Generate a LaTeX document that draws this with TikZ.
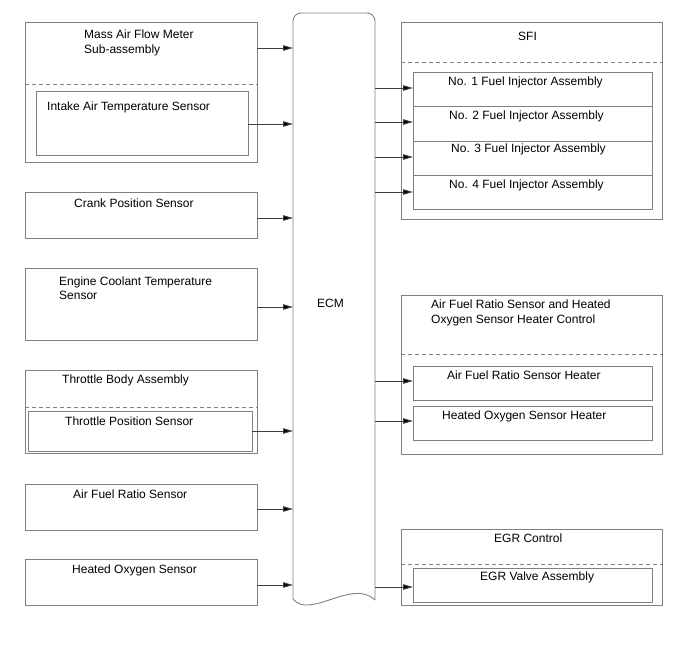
\documentclass[tikz,border=0pt]{standalone}
\usepackage{fontspec}
\setmainfont{Liberation Sans}
\usetikzlibrary{arrows.meta}
\definecolor{boxgray}{HTML}{808080}
\definecolor{linegray}{HTML}{404040}
\tikzset{
  box/.style={draw=boxgray, line width=0.9pt, rectangle, anchor=north west, inner sep=0pt, outer sep=0pt, fill=none},
  lbl/.style={anchor=base west, inner sep=0pt, font=\fontsize{12}{14}\selectfont, text=black},
  dsh/.style={draw=boxgray, line width=0.9pt, dash pattern=on 4pt off 3pt},
  arr/.style={draw=linegray, line width=0.9pt, -{Triangle[length=10pt,width=5.5pt,fill=black]}},
}
\newcommand{\bx}[5]{\node[box, minimum width=#4pt, minimum height=#5pt] (#1) at (#2,#3) {};}
\begin{document}
\begin{tikzpicture}[x=1pt,y=-1pt]
\useasboundingbox (0,0) rectangle (688,658);
% left boxes
\bx{maf}{25}{22}{232}{140}
\bx{iat}{36}{91}{212}{64}
\bx{ckp}{25}{192}{232}{46}
\bx{ect}{25}{268}{232}{72}
\bx{tb}{25}{370}{232}{83}
\bx{tps}{28}{411}{224}{40}
\bx{afs}{25}{484}{232}{46}
\bx{hos}{25}{559}{232}{46}
% right boxes
\bx{sfi}{401}{22}{261}{197}
\bx{inj1}{413}{72}{239}{34}
\bx{inj2}{413}{106}{239}{35}
\bx{inj3}{413}{141}{239}{34}
\bx{inj4}{413}{175}{239}{34}
\bx{htc}{401}{295}{261}{159}
\bx{afh}{413}{366}{239}{34}
\bx{hoh}{413}{406}{239}{34}
\bx{egr}{401}{529}{261}{76}
\bx{egv}{413}{568}{239}{34}
% dashed separators
\draw[dsh] (maf.west |- 0,84) -- (maf.east |- 0,84);
\draw[dsh] (tb.west |- 0,407) -- (tb.east |- 0,407);
\draw[dsh] (sfi.west |- 0,62) -- (sfi.east |- 0,62);
\draw[dsh] (htc.west |- 0,354) -- (htc.east |- 0,354);
\draw[dsh] (egr.west |- 0,564) -- (egr.east |- 0,564);
% ECM body
\node[anchor=north west, minimum width=82pt, minimum height=586pt, inner sep=0pt, outer sep=0pt] (ecmb) at (293,13) {};
\draw[boxgray, line width=0.9pt, rounded corners=8pt] (293,599) -- (293,13) -- (375,13) -- (375,600);
\draw[boxgray, line width=0.9pt] (293,599) .. controls (310,620) and (352,578) .. (375,600);
\node[lbl] (ecm) at (317,307) {ECM};
% texts
\node[lbl] (t1) at (84,39) {Mass Air Flow Meter};
\node[lbl] (t2) at (84,54) {Sub-assembly};
\node[lbl] (t3) at (47,111) {Intake Air Temperature Sensor};
\node[lbl] (t4) at (74,207) {Crank Position Sensor};
\node[lbl] (t5) at (59,285) {Engine Coolant Temperature};
\node[lbl] (t6) at (59,299) {Sensor};
\node[lbl] (t7) at (62,383) {Throttle Body Assembly};
\node[lbl] (t8) at (65,425) {Throttle Position Sensor};
\node[lbl] (t9) at (73,498) {Air Fuel Ratio Sensor};
\node[lbl] (t10) at (72,573) {Heated Oxygen Sensor};
\node[lbl] (t11) at (518,41) {SFI};
\node[lbl] (t12) at (448,86) {No. 1 Fuel Injector Assembly};
\node[lbl] (t13) at (449,120) {No. 2 Fuel Injector Assembly};
\node[lbl] (t14) at (451,153) {No. 3 Fuel Injector Assembly};
\node[lbl] (t15) at (449,188) {No. 4 Fuel Injector Assembly};
\node[lbl] (t16) at (431,308) {Air Fuel Ratio Sensor and Heated};
\node[lbl] (t17) at (431,323) {Oxygen Sensor Heater Control};
\node[lbl] (t18) at (447,379) {Air Fuel Ratio Sensor Heater};
\node[lbl] (t19) at (442,419) {Heated Oxygen Sensor Heater};
\node[lbl] (t20) at (494,542) {EGR Control};
\node[lbl] (t21) at (480,580) {EGR Valve Assembly};
% input arrows
\draw[arr] (maf.east |- 0,48) -- (ecmb.west |- 0,48);
\draw[arr] (iat.east |- 0,124) -- (ecmb.west |- 0,124);
\draw[arr] (ckp.east |- 0,218) -- (ecmb.west |- 0,218);
\draw[arr] (ect.east |- 0,307) -- (ecmb.west |- 0,307);
\draw[arr] (tps.east |- 0,431) -- (ecmb.west |- 0,431);
\draw[arr] (afs.east |- 0,509) -- (ecmb.west |- 0,509);
\draw[arr] (hos.east |- 0,585) -- (ecmb.west |- 0,585);
% output arrows
\draw[arr] (ecmb.east |- 0,88) -- (inj1.west |- 0,88);
\draw[arr] (ecmb.east |- 0,122) -- (inj2.west |- 0,122);
\draw[arr] (ecmb.east |- 0,157) -- (inj3.west |- 0,157);
\draw[arr] (ecmb.east |- 0,192) -- (inj4.west |- 0,192);
\draw[arr] (ecmb.east |- 0,381) -- (afh.west |- 0,381);
\draw[arr] (ecmb.east |- 0,421) -- (hoh.west |- 0,421);
\draw[arr] (ecmb.east |- 0,587) -- (egv.west |- 0,587);
\end{tikzpicture}
\end{document}
